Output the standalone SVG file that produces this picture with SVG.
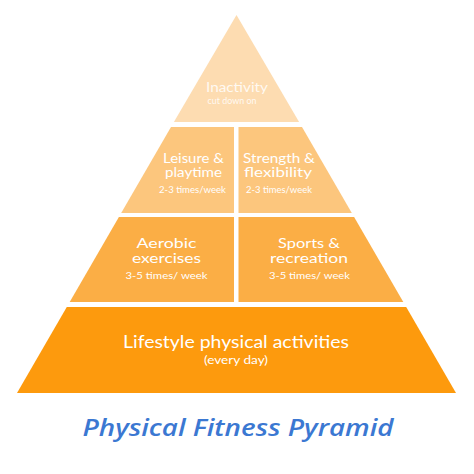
<svg xmlns="http://www.w3.org/2000/svg" width="474" height="474" viewBox="0 0 474 474">
<style>
.t{font-family:Lato,"Liberation Sans",sans-serif;fill:#ffffff;text-anchor:middle}
.m{font-size:12.5px}
.s{font-size:9px}
.l{font-size:17px}
.ttl{font-family:"Open Sans","Liberation Sans",sans-serif;font-style:italic;font-weight:600;font-size:23px;fill:#3b78d2;text-anchor:middle}
</style>
<rect width="474" height="474" fill="#ffffff"/>
<g id="tier-inactivity">
<polygon points="236.5,15 299.1,122 173.9,122" fill="#fddcb1"/>
<text class="t" x="237" y="92" font-size="13.5" textLength="62" lengthAdjust="spacingAndGlyphs" fill-opacity="0.85">Inactivity</text>
<text class="t" x="232" y="104" font-size="8.5" textLength="49" lengthAdjust="spacingAndGlyphs" fill-opacity="0.85">cut down on</text>
</g>
<g id="tier-leisure">
<polygon points="171,127 234,127 234,213 121.2,213" fill="#fcc67d"/>
<text class="t m" x="193.5" y="162.5" textLength="61" lengthAdjust="spacingAndGlyphs">Leisure &amp;</text>
<text class="t m" x="193.5" y="177" textLength="57" lengthAdjust="spacingAndGlyphs">playtime</text>
<text class="t s" x="192.5" y="193" textLength="67" lengthAdjust="spacingAndGlyphs">2-3 times/week</text>
</g>
<g id="tier-strength">
<polygon points="238.5,127 302,127 351.8,213 238.5,213" fill="#fcc67d"/>
<text class="t m" x="279" y="162.5" textLength="72" lengthAdjust="spacingAndGlyphs">Strength &amp;</text>
<text class="t m" x="278" y="177" textLength="68" lengthAdjust="spacingAndGlyphs">flexibility</text>
<text class="t s" x="279" y="193" textLength="66" lengthAdjust="spacingAndGlyphs">2-3 times/week</text>
</g>
<g id="tier-aerobic">
<polygon points="118.9,217 234,217 234,302 69.7,302" fill="#fbae45"/>
<text class="t m" x="166.5" y="248" textLength="60" lengthAdjust="spacingAndGlyphs">Aerobic</text>
<text class="t m" x="166.5" y="263" textLength="69" lengthAdjust="spacingAndGlyphs">exercises</text>
<text class="t s" x="166.5" y="278.5" textLength="82" lengthAdjust="spacingAndGlyphs">3-5 times/ week</text>
</g>
<g id="tier-sports">
<polygon points="238.5,217 354.1,217 403.3,302 238.5,302" fill="#fbae45"/>
<text class="t m" x="309" y="248" textLength="62" lengthAdjust="spacingAndGlyphs">Sports &amp;</text>
<text class="t m" x="309" y="263" textLength="78" lengthAdjust="spacingAndGlyphs">recreation</text>
<text class="t s" x="309.5" y="278.5" textLength="81" lengthAdjust="spacingAndGlyphs">3-5 times/ week</text>
</g>
<g id="tier-lifestyle">
<polygon points="66.8,307 406.2,307 456,393 17,393" fill="#fd9a0d"/>
<text class="t l" x="236" y="348" textLength="226" lengthAdjust="spacingAndGlyphs">Lifestyle physical activities</text>
<text class="t" x="236" y="364" font-size="11" textLength="64" lengthAdjust="spacingAndGlyphs">(every day)</text>
</g>
<g id="connectors"></g>
<g id="title">
<text class="ttl" x="238" y="436" textLength="311" lengthAdjust="spacingAndGlyphs">Physical Fitness Pyramid</text>
</g>
</svg>
